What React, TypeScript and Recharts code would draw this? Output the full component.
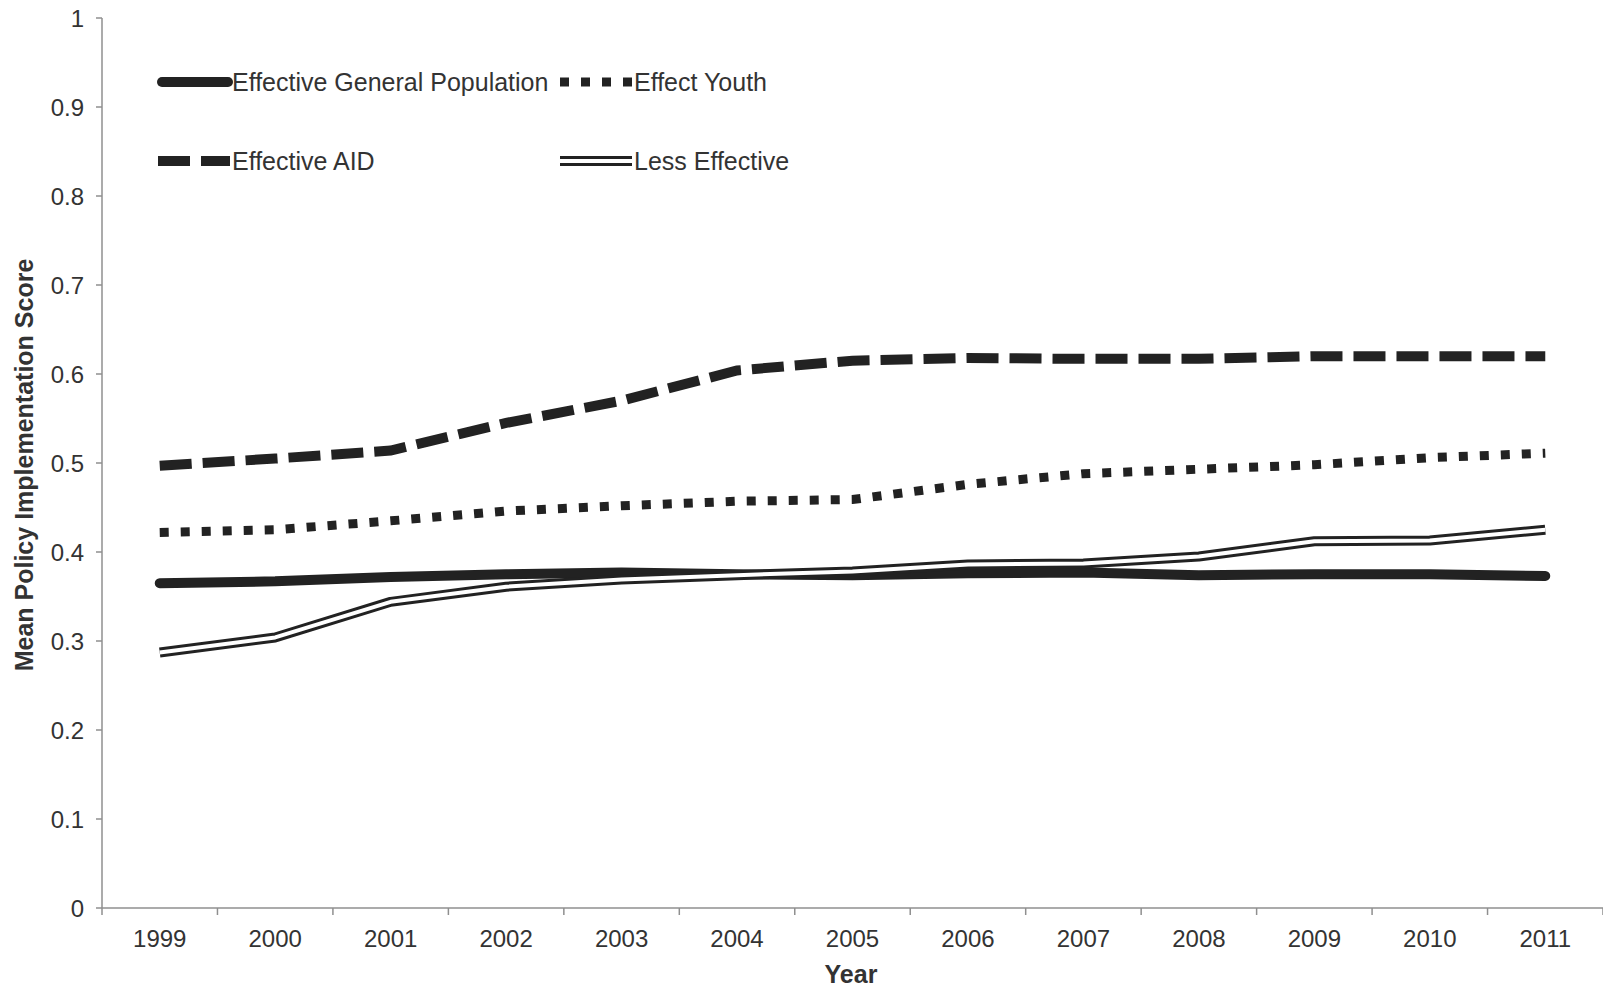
import { LineChart, Line, XAxis, YAxis } from "recharts";

const YEARS = [1999, 2000, 2001, 2002, 2003, 2004, 2005, 2006, 2007, 2008, 2009, 2010, 2011];
const GENERAL_POP = [0.365, 0.367, 0.372, 0.375, 0.377, 0.375, 0.374, 0.376, 0.377, 0.374, 0.375, 0.375, 0.373];
const YOUTH = [0.422, 0.425, 0.435, 0.446, 0.452, 0.457, 0.459, 0.476, 0.488, 0.493, 0.498, 0.506, 0.511];
const AID = [0.497, 0.505, 0.514, 0.545, 0.57, 0.604, 0.615, 0.618, 0.617, 0.617, 0.62, 0.62, 0.62];
const LESS = [0.287, 0.304, 0.344, 0.361, 0.369, 0.374, 0.378, 0.386, 0.387, 0.395, 0.412, 0.413, 0.425];
const Y_TICKS = [0, 0.1, 0.2, 0.3, 0.4, 0.5, 0.6, 0.7, 0.8, 0.9, 1];
const LEGEND_LABELS = ["Effective General Population", "Effect Youth", "Effective AID", "Less Effective"];

const data = YEARS.map((year, i) => ({
  year,
  general: GENERAL_POP[i],
  youth: YOUTH[i],
  aid: AID[i],
  less: LESS[i],
}));

const WIDTH = 1603;
const HEIGHT = 988;
const MARGIN = { top: 18, right: 0, bottom: 20, left: 30 };
const YAXIS_W = 72;
const XAXIS_H = 60;
const PLOT_W = WIDTH - MARGIN.left - MARGIN.right - YAXIS_W;
const STEP = PLOT_W / YEARS.length;

const INK = "#222";
const AXIS = "#8f8f8f";
const TEXT = "#333";
const FONT = "'Liberation Sans', Arial, sans-serif";

const DOTS = "9 12";
const DASHES = "32 11";

function XTick(props: any) {
  const { x, y, payload, index } = props;
  const last = index === YEARS.length - 1;
  return (
    <g>
      <line x1={x - STEP / 2} x2={x - STEP / 2} y1={y} y2={y + 7} stroke={AXIS} strokeWidth={1.5} />
      {last && <line x1={x + STEP / 2} x2={x + STEP / 2} y1={y} y2={y + 7} stroke={AXIS} strokeWidth={1.5} />}
      <text x={x} y={y + 39} textAnchor="middle" fontSize={24} fill={TEXT} fontFamily={FONT}>
        {payload.value}
      </text>
    </g>
  );
}

function Legend() {
  const rows = [82, 161];
  const cols = [158, 560];
  const len = 72;
  const items = [
    { col: 0, row: 0, kind: "solid" },
    { col: 1, row: 0, kind: "dots" },
    { col: 0, row: 1, kind: "dashes" },
    { col: 1, row: 1, kind: "double" },
  ];
  return (
    <svg
      width={WIDTH}
      height={HEIGHT}
      style={{ position: "absolute", left: 0, top: 0, pointerEvents: "none" }}
    >
      {items.map((it, i) => {
        const x = cols[it.col];
        const y = rows[it.row];
        return (
          <g key={i}>
            {it.kind === "solid" && (
              <line x1={x + 4} x2={x + len - 2} y1={y} y2={y} stroke={INK} strokeWidth={10} strokeLinecap="round" />
            )}
            {it.kind === "dots" && (
              <line x1={x} x2={x + len} y1={y} y2={y} stroke={INK} strokeWidth={9} strokeDasharray={DOTS} />
            )}
            {it.kind === "dashes" && (
              <line x1={x} x2={x + len} y1={y} y2={y} stroke={INK} strokeWidth={10} strokeDasharray={DASHES} />
            )}
            {it.kind === "double" && (
              <g>
                <line x1={x} x2={x + len} y1={y} y2={y} stroke={INK} strokeWidth={10} />
                <line x1={x} x2={x + len} y1={y} y2={y} stroke="#fff" strokeWidth={4} />
              </g>
            )}
            <text x={x + len + 2} y={y + 9} fontSize={25} fill={TEXT} fontFamily={FONT}>
              {LEGEND_LABELS[i]}
            </text>
          </g>
        );
      })}
    </svg>
  );
}

export default function App() {
  return (
    <div style={{ position: "absolute", left: 0, top: 0, width: WIDTH, height: HEIGHT, background: "#fff" }}>
      <LineChart width={WIDTH} height={HEIGHT} data={data} margin={MARGIN}>
        <XAxis
          dataKey="year"
          type="number"
          domain={[YEARS[0] - 0.5, YEARS[YEARS.length - 1] + 0.5]}
          ticks={YEARS}
          interval={0}
          height={XAXIS_H}
          tickSize={0}
          tickMargin={0}
          tickLine={false}
          tick={XTick}
          axisLine={{ stroke: AXIS, strokeWidth: 1.5 }}
          label={{
            content: () => (
              <text x={851} y={983} textAnchor="middle" fontSize={25} fontWeight="bold" fill={TEXT} fontFamily={FONT}>
                Year
              </text>
            ),
          }}
        />
        <YAxis
          type="number"
          domain={[0, 1]}
          ticks={Y_TICKS}
          interval={0}
          width={YAXIS_W}
          tickSize={6}
          tickMargin={12}
          tickFormatter={(v: number) => String(v)}
          tick={{ fill: TEXT, fontSize: 24, fontFamily: FONT }}
          tickLine={{ stroke: AXIS, strokeWidth: 1.5 }}
          axisLine={{ stroke: AXIS, strokeWidth: 1.5 }}
          label={{
            content: () => (
              <text
                x={0}
                y={0}
                transform="translate(33, 465) rotate(-90)"
                textAnchor="middle"
                fontSize={25}
                fontWeight="bold"
                fill={TEXT}
                fontFamily={FONT}
              >
                Mean Policy Implementation Score
              </text>
            ),
          }}
        />
        <Line
          dataKey="aid"
          type="linear"
          stroke={INK}
          strokeWidth={10}
          strokeDasharray={DASHES}
          dot={false}
          activeDot={false}
          isAnimationActive={false}
        />
        <Line
          dataKey="youth"
          type="linear"
          stroke={INK}
          strokeWidth={9}
          strokeDasharray={DOTS}
          dot={false}
          activeDot={false}
          isAnimationActive={false}
        />
        <Line
          dataKey="general"
          type="linear"
          stroke={INK}
          strokeWidth={10}
          strokeLinecap="round"
          strokeLinejoin="round"
          dot={false}
          activeDot={false}
          isAnimationActive={false}
        />
        <Line
          dataKey="less"
          type="linear"
          stroke={INK}
          strokeWidth={10}
          strokeLinejoin="round"
          dot={false}
          activeDot={false}
          isAnimationActive={false}
        />
        <Line
          dataKey="less"
          type="linear"
          stroke="#fff"
          strokeWidth={4}
          strokeLinejoin="round"
          dot={false}
          activeDot={false}
          isAnimationActive={false}
        />
      </LineChart>
      <Legend />
    </div>
  );
}
